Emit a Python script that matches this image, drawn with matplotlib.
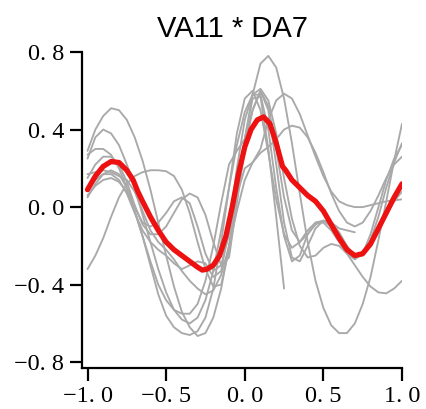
import numpy as np
import matplotlib
matplotlib.use("Agg")
import matplotlib.pyplot as plt

nan = np.nan

# shared x grid for the grey curves
x_grid = [-1.00, -0.95, -0.90, -0.85, -0.80, -0.75, -0.70, -0.65, -0.60, -0.55,
          -0.50, -0.45, -0.40, -0.35, -0.30, -0.25, -0.20, -0.15, -0.10, -0.05,
          0.00, 0.05, 0.10, 0.15, 0.20, 0.25, 0.30, 0.35, 0.40, 0.45,
          0.50, 0.55, 0.60, 0.65, 0.70, 0.75, 0.80, 0.85, 0.90, 0.95, 1.00]

g1 = [0.29, 0.40, 0.47, 0.51, 0.50, 0.45, 0.36, 0.24, 0.09, -0.08,
      -0.25, -0.41, -0.54, -0.62, -0.665, -0.65, -0.57, -0.42, -0.20, 0.07,
      0.35, 0.58, 0.74, 0.78, 0.72, 0.56, 0.33, 0.07, -0.18, -0.38,
      -0.52, -0.61, -0.65, -0.65, -0.60, -0.50, -0.36, -0.17, 0.03, 0.24, 0.43]
g2 = [0.25, 0.36, 0.40, 0.38, 0.32, 0.22, 0.10, -0.04, -0.18, -0.32,
      -0.44, -0.53, -0.58, -0.60, -0.57, -0.48, -0.33, -0.12, 0.10, 0.32,
      0.49, 0.58, 0.61, 0.55, 0.38, 0.15, -0.06, -0.20, -0.26, -0.25,
      -0.21, -0.19, -0.20, -0.24, -0.30, -0.36, -0.41, -0.44, -0.445, -0.42, -0.38]
g3 = [-0.32, -0.25, -0.16, -0.05, 0.05, 0.12, 0.16, 0.18, 0.19, 0.19,
      0.185, 0.16, 0.09, -0.03, -0.18, -0.32, -0.41, -0.40, -0.22, 0.10,
      0.35, 0.56, 0.57, 0.30, -0.05, -0.42, nan, nan, nan, nan,
      nan, nan, nan, nan, nan, nan, nan, nan, nan, nan, nan]
g4 = [0.15, 0.22, 0.26, 0.26, 0.22, 0.13, 0.01, -0.09, -0.14, -0.14,
      -0.10, -0.03, 0.04, 0.07, 0.05, -0.04, -0.18, -0.30, -0.26, 0.02,
      0.30, 0.50, 0.60, 0.52, 0.30, 0.05, -0.12, -0.18, -0.14, -0.09,
      -0.07, -0.08, -0.11, -0.12, -0.13, nan, nan, nan, nan, nan, nan]
g5 = [0.05, 0.12, 0.17, 0.19, 0.17, 0.10, 0.00, -0.08, -0.10, -0.08,
      -0.03, 0.03, 0.05, 0.02, -0.10, -0.24, -0.33, -0.30, -0.14, 0.06,
      0.20, 0.23, 0.30, 0.45, 0.55, 0.585, 0.56, 0.48, 0.37, 0.26,
      0.16, 0.08, 0.03, 0.01, 0.00, 0.00, 0.01, 0.02, 0.03, 0.035, 0.04]
g6 = [0.06, 0.11, 0.14, 0.15, 0.13, 0.08, -0.02, -0.15, -0.28, -0.40,
      -0.48, -0.53, -0.55, -0.55, -0.50, -0.38, -0.20, 0.02, 0.22, 0.29,
      0.35, 0.50, 0.60, 0.50, 0.22, -0.08, -0.26, -0.28, -0.20, -0.11,
      -0.07, -0.08, -0.13, -0.20, -0.25, -0.24, -0.17, -0.05, 0.10, 0.23, 0.33]
g7 = [0.17, 0.18, 0.19, 0.18, 0.16, 0.14, 0.08, -0.02, -0.12, -0.18,
      -0.22, -0.27, -0.33, -0.38, -0.42, -0.45, -0.43, -0.35, -0.20, -0.02,
      0.14, 0.23, 0.28, 0.31, 0.35, 0.40, 0.42, 0.41, 0.36, 0.28,
      0.18, 0.07, -0.02, -0.08, -0.10, -0.08, -0.02, 0.06, 0.15, 0.22, 0.26]
g8 = [0.09, 0.14, 0.17, 0.17, 0.14, 0.07, -0.03, -0.12, -0.18, -0.22,
      -0.25, -0.29, -0.32, -0.30, -0.28, -0.29, -0.36, -0.33, -0.10, 0.20,
      0.45, 0.58, 0.58, 0.40, 0.10, -0.15, -0.28, -0.25, -0.14, -0.08,
      -0.07, -0.10, -0.16, -0.22, -0.26, -0.25, -0.20, -0.12, -0.03, 0.03, 0.08]
g9 = [0.27, 0.30, 0.30, 0.27, 0.20, 0.10, -0.02, -0.15, -0.30, -0.45,
      -0.56, -0.62, -0.65, -0.66, -0.64, -0.57, -0.42, -0.18, 0.10, 0.38,
      0.56, 0.60, 0.50, 0.28, 0.04, -0.14, -0.21, -0.18, -0.12, -0.08,
      -0.08, -0.12, -0.18, -0.24, -0.27, -0.24, -0.14, 0.00, 0.14, 0.25, 0.32]
grey_curves = [g1, g2, g3, g4, g5, g6, g7, g8, g9]

# red average curve
red_x = [-1.0, -0.95, -0.90, -0.85, -0.80, -0.75, -0.71, -0.68, -0.65, -0.60,
         -0.55, -0.50, -0.45, -0.40, -0.35, -0.30, -0.27, -0.24, -0.20, -0.16,
         -0.12, -0.08, -0.04, 0.0, 0.04, 0.08, 0.12, 0.16, 0.20, 0.22,
         0.24, 0.26, 0.30, 0.35, 0.40, 0.45, 0.50, 0.55, 0.60, 0.65,
         0.70, 0.75, 0.80, 0.85, 0.90, 0.95, 1.0]
red_y = [0.09, 0.16, 0.21, 0.235, 0.23, 0.19, 0.14, 0.08, 0.03, -0.05,
         -0.12, -0.18, -0.22, -0.25, -0.28, -0.31, -0.325, -0.32, -0.30, -0.25,
         -0.15, 0.00, 0.17, 0.31, 0.40, 0.45, 0.465, 0.43, 0.33, 0.27,
         0.21, 0.19, 0.14, 0.10, 0.06, 0.03, -0.02, -0.09, -0.16, -0.22,
         -0.25, -0.24, -0.19, -0.11, -0.03, 0.05, 0.12]

x_ticks = [-1.0, -0.5, 0.0, 0.5, 1.0]
y_ticks = [-0.8, -0.4, 0.0, 0.4, 0.8]
title = "VA11 * DA7"


def tick_text(v):
    # the original labels show a wide gap after the decimal point
    return f"{v:.1f}".replace(".", ". ").replace("-", "\u2212")


fig = plt.figure(figsize=(4.26, 4.09), dpi=100)
ax = fig.add_axes([82 / 426, 1 - 368 / 409, 320 / 426, 316 / 409])

for g in grey_curves:
    ax.plot(x_grid, g, color="#a9a9a9", lw=1.35, solid_capstyle="round")
ax.plot(red_x, red_y, color="#ee1111", lw=3.8, solid_capstyle="round")

ax.set_xlim(-1.035, 1.0)
ax.set_ylim(-0.83, 0.8)

for s in ["top", "right"]:
    ax.spines[s].set_visible(False)
for s in ["left", "bottom"]:
    ax.spines[s].set_linewidth(1.6)

ax.set_xticks(x_ticks)
ax.set_yticks(y_ticks)
ax.set_xticklabels([tick_text(v) for v in x_ticks], family="Liberation Serif", fontsize=17.5)
ax.set_yticklabels([tick_text(v) for v in y_ticks], family="Liberation Serif", fontsize=17.5)
ax.tick_params(axis="both", direction="out", length=9, width=1.6, pad=4)

ax.set_title(title, family="Liberation Sans", fontsize=21, x=0.47, pad=11)

fig.savefig("out.png", dpi=100)
